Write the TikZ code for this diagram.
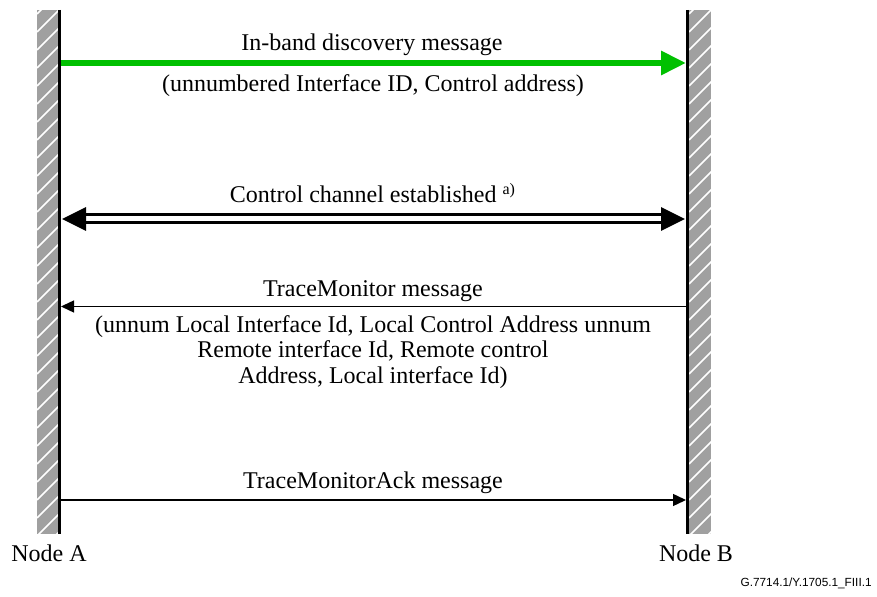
\documentclass[tikz,border=0pt]{standalone}
\usepackage{fontspec}
\setmainfont{Liberation Serif}
\newfontfamily\figfont{Liberation Sans}
\usetikzlibrary{arrows.meta}

\definecolor{hatchgray}{RGB}{160,160,160}
\definecolor{msggreen}{RGB}{0,192,0}

\newcommand{\hatchbar}[2]{%
  \begin{scope}
    \clip (#1,10) rectangle (#2,534);
    \fill[hatchgray] (#1,10) rectangle (#2,534);
    \foreach \y in {14,32,...,590}
      \draw[white, line width=0.75pt] (#1,\y) -- (#1+40,\y-40);
  \end{scope}}

\begin{document}
\begin{tikzpicture}[x=0.5pt, y=-0.5pt,
    lifeline/.style={line width=1.5pt},
    msg/.style={inner sep=0pt, font=\fontsize{12}{12.75}\selectfont},
    discovery/.style={msggreen, line width=3pt, -{Triangle[length=12.5pt, width=11.5pt]}},
    channel/.style={line width=1.5pt, double, double distance=2.5pt,
      {Triangle[length=12pt, width=11.5pt]}-{Triangle[length=12pt, width=11.5pt]}},
    trace/.style={line width=0.7pt, -{Triangle[length=6.5pt, width=6pt]}}]
      \useasboundingbox (0,0) rectangle (877,597);

      \hatchbar{37}{58}
      \hatchbar{689}{711}
      \coordinate (atop) at (59.5, 10);
      \coordinate (abot) at (59.5, 534);
      \coordinate (btop) at (687.5, 10);
      \coordinate (bbot) at (687.5, 534);
      \draw[lifeline] (atop) -- (abot);
      \draw[lifeline] (btop) -- (bbot);

      \coordinate (a1) at (61, 63);
      \coordinate (b1) at (686, 63);
      \coordinate (a2) at (62, 219);
      \coordinate (b2) at (685, 219);
      \coordinate (a3) at (61, 306.5);
      \coordinate (b3) at (686, 306.5);
      \coordinate (a4) at (61, 500);
      \coordinate (b4) at (686, 500);

      \draw[discovery] (a1) -- (b1);
      \draw[channel] (a2) -- (b2);
      \draw[trace] (b3) -- (a3);
      \draw[trace] (a4) -- (b4);

      \node[msg, anchor=base] (inband) at (372, 51) {In-band discovery message};
      \node[msg, anchor=base] (inbandargs) at (373, 92) {(unnumbered Interface ID, Control address)};
      \node[msg, anchor=base] (ctrl) at (373, 203) {Control channel established \textsuperscript{a)}};
      \node[msg, anchor=base] (trmon) at (373, 297) {TraceMonitor message};
      \node[msg, anchor=north, align=center] (trmonargs) at (373, 315)
        {(unnum Local Interface Id, Local Control Address unnum\\
         Remote interface Id, Remote control\\
         Address, Local interface Id)};
      \node[msg, anchor=base] (track) at (373, 489) {TraceMonitorAck message};

      \node[msg, anchor=base] (nodea) at (49, 562) {Node A};
      \node[msg, anchor=base] (nodeb) at (696, 562) {Node B};
      \node[inner sep=0pt, anchor=base east, font=\figfont\fontsize{5.9}{7}\selectfont] (figid) at (872, 587)
        {G.7714.1/Y.1705.1\_FIII.1};
    \end{tikzpicture}
\end{document}
